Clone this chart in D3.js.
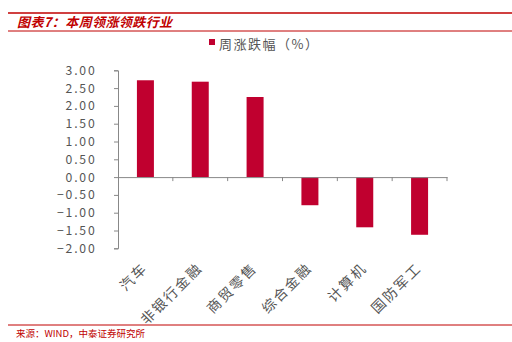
<!DOCTYPE html>
<html><head><meta charset="utf-8">
<script src="https://cdn.jsdelivr.net/npm/d3@7"></script>
<style>body{margin:0;background:#fff}svg{display:block}</style>
</head><body>
<svg id="c" width="512" height="342"></svg>
<script>
const categories = ["汽车","非银行金融","商贸零售","综合金融","计算机","国防军工"];
const values = [2.72, 2.68, 2.25, -0.79, -1.41, -1.62];
const yTicks = [3, 2.5, 2, 1.5, 1, 0.5, 0, -0.5, -1, -1.5, -2];
const seriesName = "周涨跌幅（%）";
const titleText = "图表7：本周领涨领跌行业";
const sourceText = "来源：WIND，中泰证券研究所";

const svg = d3.select("#c");
const red = "#C00000";
const barColor = "#C0002F";
const font = "'Noto Sans CJK SC', sans-serif";

// header lines
svg.append("line").attr("x1",8).attr("x2",512).attr("y1",13).attr("y2",13).attr("stroke",red).attr("stroke-width",1.5);
svg.append("line").attr("x1",8).attr("x2",512).attr("y1",31).attr("y2",31).attr("stroke",red).attr("stroke-width",1);
svg.append("text").attr("x",17).attr("y",27).text(titleText)
  .attr("fill",red).attr("font-family",font).attr("font-size",13).attr("font-weight","bold").attr("font-style","italic")
  .attr("letter-spacing",0.4);

// footer
svg.append("line").attr("x1",8).attr("x2",512).attr("y1",325).attr("y2",325).attr("stroke",red).attr("stroke-width",1);
svg.append("text").attr("x",16).attr("y",337).text(sourceText)
  .attr("fill",red).attr("font-family",font).attr("font-size",9.5);

// legend
svg.append("rect").attr("x",209).attr("y",39).attr("width",6).attr("height",6).attr("fill",barColor);
svg.append("text").attr("x",219).attr("y",48.5).text(seriesName)
  .attr("fill","#555").attr("font-family",font).attr("font-size",13).attr("letter-spacing",1.5);

const x = d3.scaleBand().domain(categories).range([118,447]).padding(0);
const y = d3.scaleLinear().domain([-2,3]).range([248.3,70.3]);

// bars
const bw = x.bandwidth()*0.31;
svg.selectAll("rect.bar").data(values).join("rect").attr("class","bar")
  .attr("x",(d,i)=>x(categories[i])+x.bandwidth()/2-bw/2)
  .attr("y",d=>y(Math.max(0,d)))
  .attr("width",bw)
  .attr("height",d=>Math.abs(y(d)-y(0)))
  .attr("fill",barColor);

// y axis
const yAxis = d3.axisLeft(y).tickValues(yTicks).tickSize(4).tickPadding(17.5)
  .tickFormat(d=>d3.format(".2f")(d).replace("-","−"));
const gy = svg.append("g").attr("transform","translate(118,0)").call(yAxis);
gy.select(".domain").attr("stroke","#888");
gy.selectAll(".tick line").attr("stroke","#888");
gy.selectAll(".tick text").attr("fill","#555").attr("font-family",font).attr("font-size",12.2)
  .attr("letter-spacing",1.8);

// x axis at zero
const xAxis = d3.axisBottom(x).tickSize(0).tickFormat("");
const gx = svg.append("g").attr("transform",`translate(0,${y(0)})`).call(xAxis);
gx.select(".domain").attr("stroke","#888");
gx.selectAll(".tick").remove();
const bounds = categories.map(c=>x(c)+x.bandwidth());
gx.selectAll("line.bt").data(bounds).join("line").attr("class","bt")
  .attr("x1",d=>d).attr("x2",d=>d).attr("y1",0).attr("y2",4).attr("stroke","#888");

// x labels
svg.selectAll("text.xl").data(categories).join("text").attr("class","xl")
  .attr("transform",d=>`translate(${x(d)+x.bandwidth()/2+3},269) rotate(-45)`)
  .attr("text-anchor","end").attr("fill","#555").attr("font-family",font).attr("font-size",14)
  .attr("letter-spacing",2)
  .text(d=>d);
</script>
</body></html>
